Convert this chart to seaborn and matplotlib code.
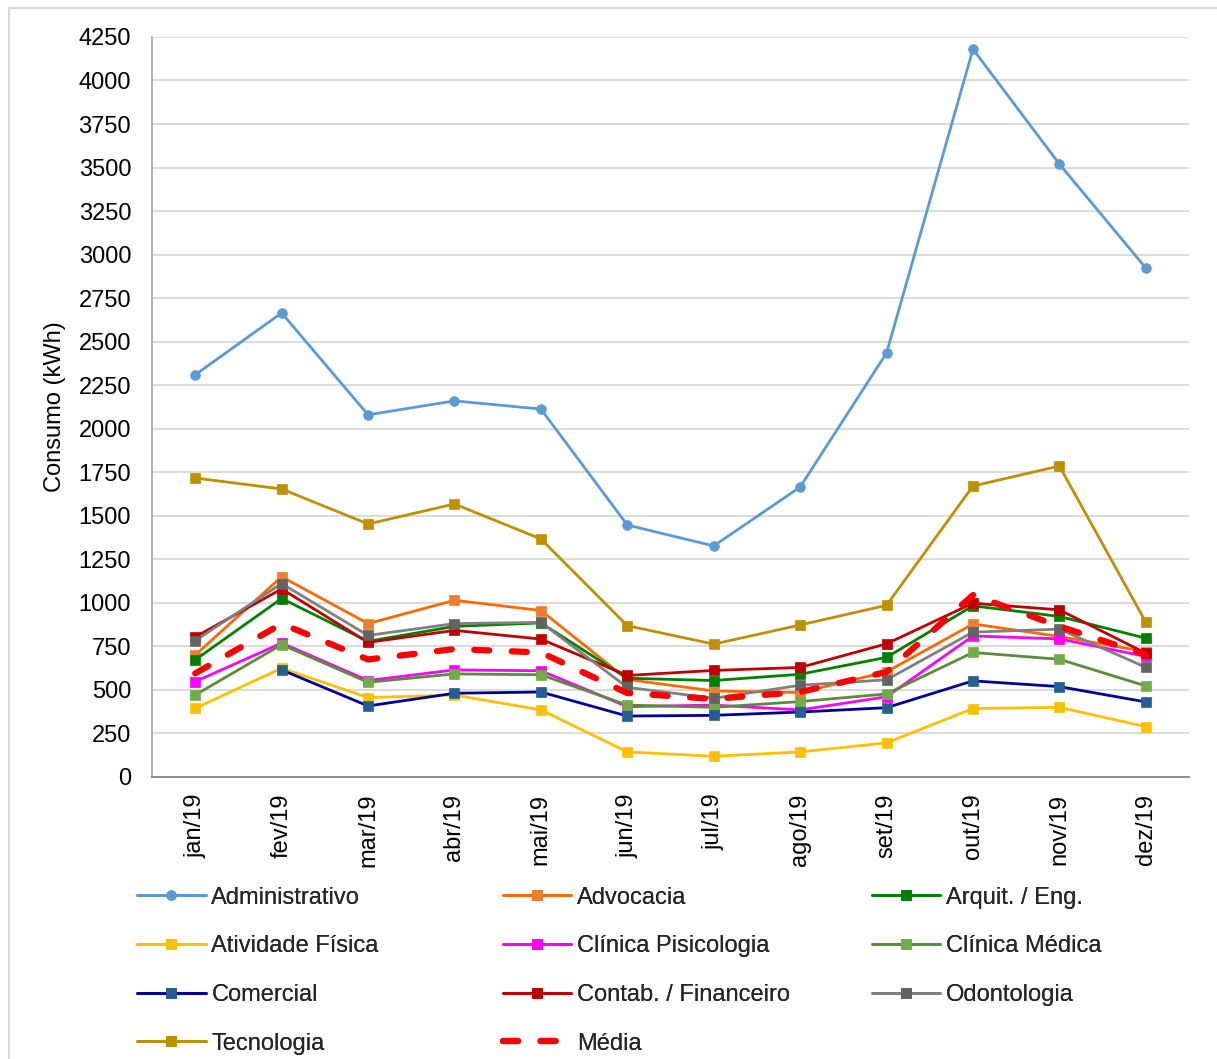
"""
Consumo mensal de energia por setor (2019)
"""

import matplotlib.pyplot as plt
import numpy as np
import pandas as pd
import seaborn as sns
from matplotlib.patches import Rectangle

# =========================================================
# Data
# =========================================================

MONTHS = ["jan/19", "fev/19", "mar/19", "abr/19", "mai/19", "jun/19",
          "jul/19", "ago/19", "set/19", "out/19", "nov/19", "dez/19"]

administrativo = [2310, 2665, 2080, 2160, 2113, 1447, 1327, 1665, 2435, 4180, 3520, 2923]
advocacia = [700, 1150, 881, 1015, 956, 560, 494, 485, 604, 879, 807, 720]
arquit_eng = [673, 1025, 779, 865, 885, 567, 554, 590, 687, 983, 922, 797]
atividade_fisica = [394, 625, 456, 471, 385, 144, 119, 144, 196, 393, 400, 289]
clinica_psicologia = [548, 769, 554, 615, 610, 404, 413, 385, 461, 810, 793, 692]
clinica_medica = [471, 760, 544, 592, 587, 413, 400, 433, 477, 715, 676, 523]
comercial = [np.nan, 615, 408, 481, 488, 350, 354, 373, 398, 552, 519, 431]
contab_financeiro = [804, 1080, 773, 842, 792, 583, 612, 629, 765, 998, 960, 711]
odontologia = [783, 1111, 813, 881, 888, 515, 452, 527, 558, 832, 849, 630]
tecnologia = [1717, 1654, 1453, 1568, 1367, 869, 763, 873, 986, 1671, 1786, 889]
media = [595, 880, 675, 735, 715, 482, 448, 488, 603, 1045, 865, 702]

Y_TICKS = list(range(0, 4251, 250))

# label, values, line colour, marker colour, marker
SERIES = [
    ("Administrativo", administrativo, "#5B9BD5", "#5B9BD5", "o"),
    ("Advocacia", advocacia, "#FF6A00", "#ED7D31", "s"),
    ("Arquit. / Eng.", arquit_eng, "#008000", "#008000", "s"),
    ("Atividade Física", atividade_fisica, "#FFC000", "#FFC000", "s"),
    ("Clínica Pisicologia", clinica_psicologia, "#FF00FF", "#FF00FF", "s"),
    ("Clínica Médica", clinica_medica, "#5B8C3A", "#70AD47", "s"),
    ("Comercial", comercial, "#000099", "#255E91", "s"),
    ("Contab. / Financeiro", contab_financeiro, "#C00000", "#C00000", "s"),
    ("Odontologia", odontologia, "#808080", "#636363", "s"),
    ("Tecnologia", tecnologia, "#BF9000", "#BF9000", "s"),
]

# =========================================================
# Plot Settings
# =========================================================

sns.set_theme(style="white")
plt.rcParams["font.family"] = ["Liberation Sans", "DejaVu Sans"]

FONT_SIZE = 17


def main():

    fig = plt.figure(figsize=(12.17, 10.59), dpi=100)
    ax = fig.add_axes([0.1249, 0.2663, 0.8521, 0.6988])

    x = np.arange(len(MONTHS))

    handles = []

    for label, values, line_color, marker_color, marker in SERIES:

        df = pd.DataFrame({"mes": x, "consumo": values}).dropna()

        sns.lineplot(
            data=df,
            x="mes",
            y="consumo",
            ax=ax,
            color=line_color,
            linewidth=2.0,
            marker=marker,
            markersize=7.5 if marker == "s" else 7,
            markerfacecolor=marker_color,
            markeredgecolor=marker_color,
            markeredgewidth=0.5,
            label=label,
            legend=False,
        )
        handles.append(ax.lines[-1])

    df_media = pd.DataFrame({"mes": x, "consumo": media})

    sns.lineplot(
        data=df_media,
        x="mes",
        y="consumo",
        ax=ax,
        color="#FF0000",
        linewidth=4.5,
        label="Média",
        legend=False,
    )
    media_line = ax.lines[-1]
    media_line.set_dashes((2.4, 3.6))
    media_line.set_dash_capstyle("round")
    handles.append(media_line)

    # axes
    ax.set_xlim(-0.5, len(MONTHS) - 0.5)
    ax.set_ylim(0, 4250)
    ax.set_yticks(Y_TICKS)
    ax.set_xticks(x)
    ax.set_xticklabels(MONTHS, rotation=90)

    ax.yaxis.grid(True, color="#D9D9D9", linewidth=1.3)
    ax.xaxis.grid(False)
    ax.set_axisbelow(True)

    for side in ["top", "right"]:
        ax.spines[side].set_visible(False)
    ax.spines["left"].set_color("#A6A6A6")
    ax.spines["bottom"].set_color("#8C8C8C")
    ax.spines["left"].set_linewidth(1.2)
    ax.spines["bottom"].set_linewidth(1.4)

    ax.tick_params(axis="y", length=0, pad=15, labelsize=FONT_SIZE, labelcolor="black")
    ax.tick_params(axis="x", length=0, pad=12, labelsize=FONT_SIZE, labelcolor="black")

    ax.set_xlabel("")
    ax.set_ylabel("Consumo (kWh)", fontsize=FONT_SIZE, color="black", labelpad=9)

    # legend: three columns, filled row by row
    col_x = [0.1126, 0.4133, 0.7165]
    for col in range(3):
        col_handles = handles[col::3]
        leg = fig.legend(
            handles=col_handles,
            labels=[h.get_label() for h in col_handles],
            loc="upper left",
            bbox_to_anchor=(col_x[col], 0.1627),
            frameon=False,
            fontsize=FONT_SIZE,
            handlelength=2.9,
            handletextpad=0.25,
            labelspacing=1.13,
            borderpad=0,
            borderaxespad=0,
        )
        fig.add_artist(leg)

    # chart area frame
    fig.patches.append(
        Rectangle(
            (9 / 1217, -0.05), 1.2, 1 - 8 / 1059 + 0.05,
            transform=fig.transFigure,
            fill=False,
            edgecolor="#D9D9D9",
            linewidth=1.5,
        )
    )

    fig.savefig("out.png", dpi=100)
    plt.close(fig)


if __name__ == "__main__":
    main()
